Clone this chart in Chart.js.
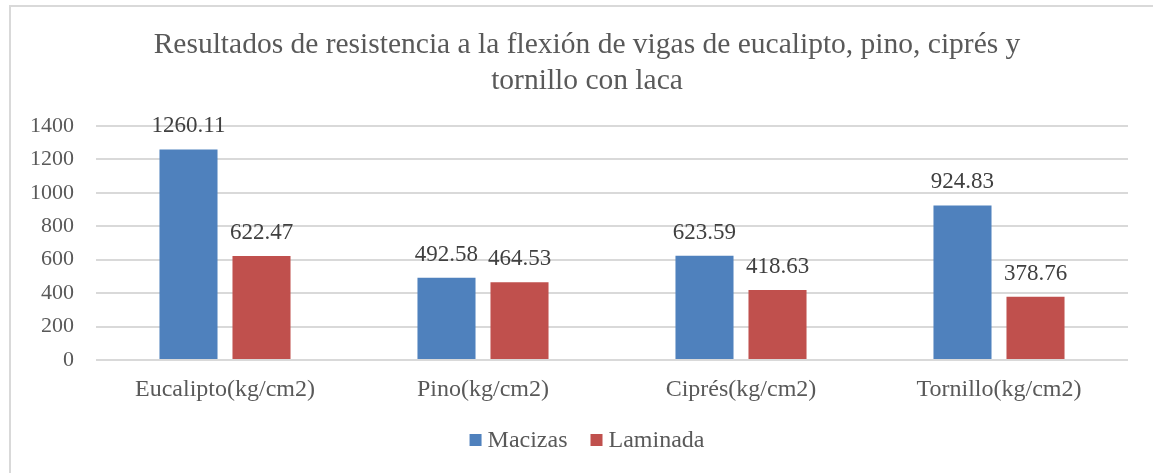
<!DOCTYPE html>
<html>
<head>
<meta charset="utf-8">
<script src="https://cdn.jsdelivr.net/npm/chart.js@4"></script>
<style>
  html, body { margin: 0; padding: 0; background: #fff; }
  #wrap { position: absolute; left: 0; top: 0; width: 1153px; height: 473px; }
  #frame { position: absolute; left: 9px; top: 5px; width: 1160px; height: 480px;
           border-top: 2px solid #d9d9d9; border-left: 2px solid #d9d9d9; }
  canvas { position: absolute; left: 0; top: 0; }
</style>
</head>
<body>
<div id="wrap">
  <div id="frame"></div>
  <canvas id="myChart" width="1153" height="473"></canvas>
</div>
<script>
const categories = ["Eucalipto(kg/cm2)", "Pino(kg/cm2)", "Ciprés(kg/cm2)", "Tornillo(kg/cm2)"];
const macizas = [1260.11, 492.58, 623.59, 924.83];
const laminada = [622.47, 464.53, 418.63, 378.76];
const yTicks = [0, 200, 400, 600, 800, 1000, 1200, 1400];
const titleLines = ["Resultados de resistencia a la flexión de vigas de eucalipto, pino, ciprés y", "tornillo con laca"];

const serif = "'Liberation Serif', 'Times New Roman', serif";
const grey = "#595959";

// numbers above the bars
const valueLabels = {
  id: "valueLabels",
  afterDatasetsDraw(chart) {
    const ctx = chart.ctx;
    ctx.save();
    ctx.font = "23px " + serif;
    ctx.fillStyle = "#404040";
    ctx.textAlign = "center";
    ctx.textBaseline = "alphabetic";
    chart.data.datasets.forEach((ds, i) => {
      chart.getDatasetMeta(i).data.forEach((bar, j) => {
        ctx.fillText(ds.data[j].toFixed(2), bar.x, bar.y - 17);
      });
    });
    ctx.restore();
  }
};

// title and legend are centred on the whole frame, not the plot
const frameText = {
  id: "frameText",
  afterDraw(chart) {
    const ctx = chart.ctx;
    const cx = (chart.chartArea.left + chart.chartArea.right) / 2 - 25;
    ctx.save();
    ctx.textBaseline = "alphabetic";

    ctx.font = "29.5px " + serif;
    ctx.fillStyle = grey;
    ctx.textAlign = "center";
    titleLines.forEach((t, i) => ctx.fillText(t, cx, 53 + i * 36));

    ctx.font = "24px " + serif;
    ctx.textAlign = "left";
    const ds = chart.data.datasets;
    const box = 12, gap = 6, space = 23;
    const widths = ds.map((d) => ctx.measureText(d.label).width);
    const total = widths.reduce((a, w) => a + box + gap + w, 0) + space * (ds.length - 1);
    let x = cx - total / 2;
    const base = 447;
    ds.forEach((d, i) => {
      ctx.fillStyle = d.backgroundColor;
      ctx.fillRect(x, base - 13, box, box);
      x += box + gap;
      ctx.fillStyle = grey;
      ctx.fillText(d.label, x, base);
      x += widths[i] + space;
    });
    ctx.restore();
  }
};

new Chart(document.getElementById("myChart"), {
  type: "bar",
  data: {
    labels: categories,
    datasets: [
      { label: "Macizas", data: macizas, backgroundColor: "#4F81BD" },
      { label: "Laminada", data: laminada, backgroundColor: "#C0504D" }
    ]
  },
  options: {
    responsive: false,
    animation: false,
    devicePixelRatio: 1,
    layout: { padding: { left: 10, right: 25, top: 126, bottom: 69 } },
    datasets: { bar: { categoryPercentage: 0.566, barPercentage: 0.795 } },
    scales: {
      x: {
        afterFit: (s) => { s.height = 44; },
        grid: { display: false, drawTicks: false },
        border: { display: false },
        ticks: { color: grey, font: { family: serif, size: 24 }, padding: 15 }
      },
      y: {
        min: 0,
        max: 1400,
        afterBuildTicks: (s) => { s.ticks = yTicks.map((v) => ({ value: v })); },
        afterFit: (s) => { s.width = 86; },
        grid: { color: "#d9d9d9", lineWidth: 2, drawTicks: false },
        border: { display: false },
        ticks: { color: grey, font: { family: serif, size: 22 }, padding: 22,
                 callback: (v) => String(v) }
      }
    },
    plugins: {
      title: { display: false },
      legend: { display: false },
      tooltip: { enabled: false }
    }
  },
  plugins: [valueLabels, frameText]
});
</script>
</body>
</html>
